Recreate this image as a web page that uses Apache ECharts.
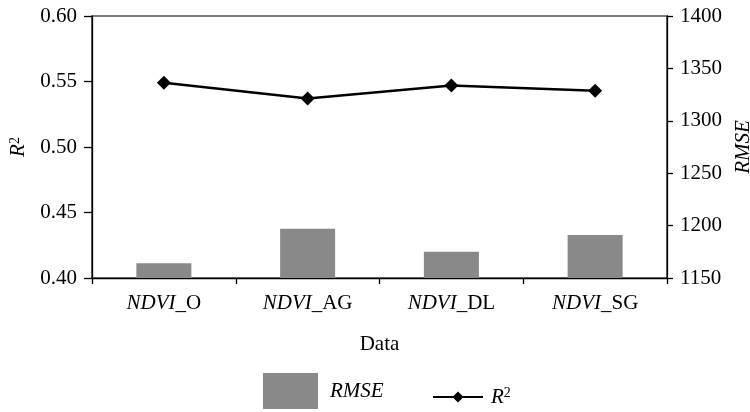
<!DOCTYPE html>
<html><head><meta charset="utf-8">
<script src="https://cdn.jsdelivr.net/npm/echarts@6/dist/echarts.min.js"></script>
<style>html,body{margin:0;padding:0;background:#fff}#c{width:750px;height:412px}</style>
</head><body><div id="c"></div>
<script>
const categories = ['O', 'AG', 'DL', 'SG'];
const rmseValues = [1164, 1197, 1175, 1191];
const r2Values = [0.549, 0.537, 0.547, 0.543];
const leftTicks = {min: 0.40, max: 0.60, interval: 0.05};
const rightTicks = {min: 1150, max: 1400, interval: 50};

const F = 'Liberation Serif';
const FS = 21;
const chart = echarts.init(document.getElementById('c'));
chart.setOption({
  animation: false,
  textStyle: {fontFamily: F, color: '#000'},
  grid: {left: 92, right: 83, top: 16, bottom: 134, show: true, borderColor: '#000', borderWidth: 1.2,
         outerBoundsMode: 'none', containLabel: false},
  legend: [
    {data: [{name: 'RMSE', icon: 'rect'}], left: 263, top: 373, padding: 0, itemWidth: 55, itemHeight: 36, itemGap: 12,
     textStyle: {fontFamily: F, fontSize: FS, fontStyle: 'italic', color: '#000', padding: [0, 0, 0, 7]}},
    {data: ['R2'], left: 432, top: 386, padding: 0, itemWidth: 50, itemHeight: 14, itemGap: 8,
     formatter: () => '{i|R}{s|2}',
     textStyle: {fontFamily: F, fontSize: FS, color: '#000', padding: [0, 0, 0, 3],
       rich: {i: {fontFamily: F, fontSize: FS, fontStyle: 'italic'}, s: {fontFamily: F, fontSize: 14, verticalAlign: 'top', padding: [0,0,8,0]}}}}
  ],
  xAxis: {
    type: 'category', data: categories,
    name: 'Data', nameLocation: 'middle', nameGap: 56,
    nameTextStyle: {fontFamily: F, fontSize: FS, color: '#000'},
    axisLine: {lineStyle: {color: '#000', width: 1.3}},
    axisTick: {show: true, alignWithLabel: false, length: 6, lineStyle: {color: '#000', width: 1.3}},
    axisLabel: {margin: 15, formatter: v => '{i|NDVI}{n|_' + v + '}',
      rich: {i: {fontFamily: F, fontSize: FS, fontStyle: 'italic', color: '#000'}, n: {fontFamily: F, fontSize: FS, color: '#000'}}},
    splitLine: {show: false}
  },
  yAxis: [
    {type: 'value', min: leftTicks.min, max: leftTicks.max, interval: leftTicks.interval,
     name: '{i|R}{s|2}', nameLocation: 'middle', nameGap: 58, nameRotate: 90,
     nameTextStyle: {rich: {i: {fontFamily: F, fontSize: FS, fontStyle: 'italic', color: '#000'}, s: {fontFamily: F, fontSize: 14, color: '#000', verticalAlign: 'top', padding: [0,0,8,0]}}},
     axisLine: {show: true, lineStyle: {color: '#000', width: 1.3}},
     axisTick: {show: true, length: 8, lineStyle: {color: '#000', width: 1.3}},
     axisLabel: {fontFamily: F, fontSize: FS, color: '#000', margin: 15, formatter: v => v.toFixed(2)},
     splitLine: {show: false}},
    {type: 'value', min: rightTicks.min, max: rightTicks.max, interval: rightTicks.interval, position: 'right',
     name: 'RMSE', nameLocation: 'middle', nameGap: 66, nameRotate: 90,
     nameTextStyle: {fontFamily: F, fontSize: FS, fontStyle: 'italic', color: '#000'},
     axisLine: {show: true, lineStyle: {color: '#000', width: 1.3}},
     axisTick: {show: true, length: 6, lineStyle: {color: '#000', width: 1.3}},
     axisLabel: {fontFamily: F, fontSize: FS, color: '#000', margin: 13, formatter: v => String(v)},
     splitLine: {show: false}}
  ],
  series: [
    {name: 'RMSE', type: 'bar', yAxisIndex: 1, data: rmseValues, barWidth: 55,
     itemStyle: {color: '#898989'}},
    {name: 'R2', type: 'line', yAxisIndex: 0, data: r2Values, symbol: 'diamond', symbolSize: 14,
     lineStyle: {color: '#000', width: 2.5}, itemStyle: {color: '#000'}}
  ]
});
</script></body></html>
